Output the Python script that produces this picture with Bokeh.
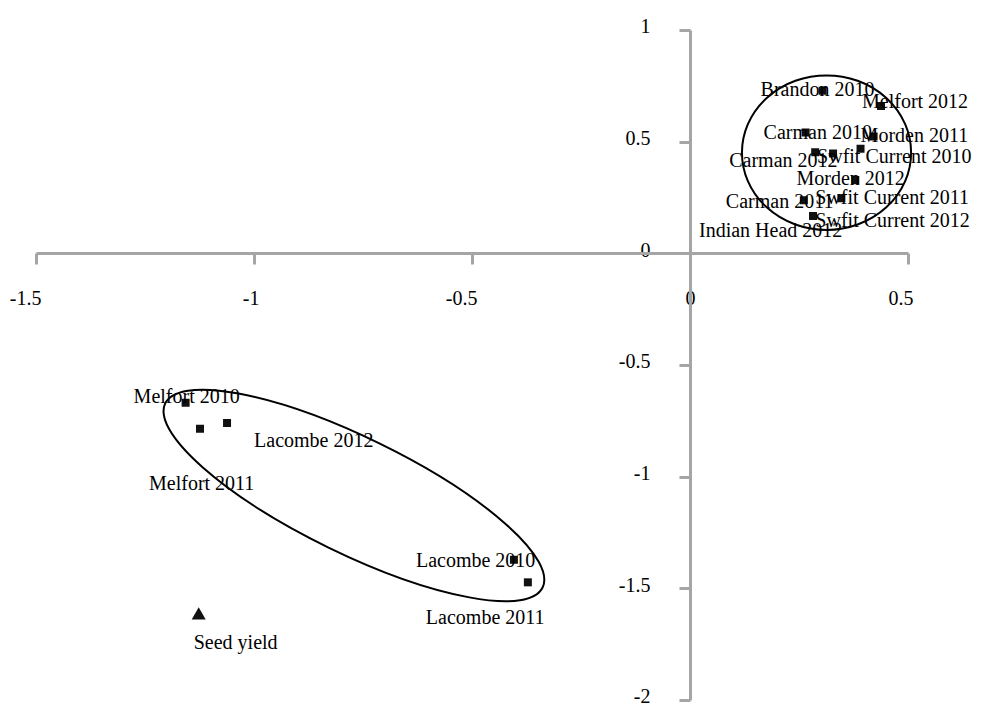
from bokeh.plotting import figure
from bokeh.models import ColumnDataSource, FixedTicker, Range1d
from bokeh.embed import file_html
from bokeh.resources import INLINE
from bokeh.core.properties import value
import math

# ---- data ----
sites = ["Brandon 2010", "Melfort 2012", "Carman 2010", "Morden 2011",
         "Swfit Current 2010", "Carman 2012", "Morden 2012", "Swfit Current 2011",
         "Carman 2011", "Swfit Current 2012", "Indian Head 2012",
         "Melfort 2010", "Lacombe 2012", "Melfort 2011", "Lacombe 2010", "Lacombe 2011"]
pc1 = [0.303, 0.437, 0.264, 0.420, 0.327, 0.286, 0.390, 0.378, 0.260, 0.346, 0.281,
       -1.158, -1.063, -1.125, -0.405, -0.373]
pc2 = [0.730, 0.662, 0.543, 0.525, 0.449, 0.455, 0.470, 0.331, 0.240, 0.249, 0.169,
       -0.667, -0.757, -0.783, -1.370, -1.471]

traits = ["Seed yield"]
trait_pc1 = [-1.128]
trait_pc2 = [-1.619]

# cluster ellipses (centre x, centre y, width, height in data units, angle in degrees)
ell_x = [0.312, -0.772]
ell_y = [0.453, -1.082]
ell_w = [0.388, 0.963]
ell_h = [0.692, 0.519]
ell_angle = [0, -26]

x_ticks = [-1.5, -1, -0.5, 0, 0.5]
x_tick_labels = ["-1.5", "-1", "-0.5", "0", "0.5"]
y_ticks = [-2, -1.5, -1, -0.5, 0, 0.5, 1]
y_tick_labels = ["-2", "-1.5", "-1", "-0.5", "0", "0.5", "1"]

# ---- label placement (pixel offsets, style only) ----
lab_dx = [-62, -19, -42, -13, -16, -86, -64, -40, -78, -26, -114, -52, 27, -51, -98, -102]
lab_dy = [-1.5, -5, -1, -2, 2, 8, 29, 17, 1, 22, 14, -7, 17, 54, 0, 35]
trait_dx = [-5]
trait_dy = [27]

FONT = value("Liberation Serif")
FS = "20px"
AXIS_GREY = "#a5a5a5"

p = figure(width=973, height=706,
           x_range=Range1d(-1.5826, 0.6491), y_range=Range1d(-2.0270, 1.1343),
           output_backend="svg", toolbar_location=None, min_border=0)
p.outline_line_color = None
p.grid.visible = False
p.background_fill_color = "white"

for ax, ticks, bnds in ((p.xaxis[0], x_ticks, (-1.5, 0.5)), (p.yaxis[0], y_ticks, (-2, 1))):
    ax.fixed_location = 0
    ax.bounds = bnds
    ax.ticker = FixedTicker(ticks=ticks)
    ax.axis_line_color = AXIS_GREY
    ax.axis_line_width = 3
    ax.major_tick_line_color = AXIS_GREY
    ax.major_tick_line_width = 3
    ax.major_tick_in = 0
    ax.major_tick_out = 11
    ax.minor_tick_line_color = None
    ax.major_label_text_color = None

# tick labels
p.text(x=x_ticks, y=[0] * len(x_ticks), text=x_tick_labels,
       x_offset=5, y_offset=44, text_align="right", text_baseline="alphabetic",
       text_font=FONT, text_font_size=FS, text_color="#000000")
p.text(x=[0] * len(y_ticks), y=y_ticks, text=y_tick_labels,
       x_offset=-40, y_offset=-4, text_align="right", text_baseline="alphabetic",
       text_font=FONT, text_font_size=FS, text_color="#000000")

# ellipses
p.ellipse(x=ell_x, y=ell_y, width=ell_w, height=ell_h,
          angle=[math.radians(a) for a in ell_angle],
          fill_color=None, line_color="#000000", line_width=2)

# site points
src = ColumnDataSource(dict(x=pc1, y=pc2, name=sites, dx=lab_dx, dy=lab_dy))
p.scatter(x="x", y="y", source=src, marker="square", size=8,
          fill_color="#111111", line_color="#111111", line_width=0)
p.text(x="x", y="y", text="name", x_offset="dx", y_offset="dy", source=src,
       text_align="left", text_baseline="alphabetic",
       text_font=FONT, text_font_size=FS, text_color="#000000")

# trait
tsrc = ColumnDataSource(dict(x=trait_pc1, y=trait_pc2, name=traits, dx=trait_dx, dy=trait_dy))
p.scatter(x="x", y="y", source=tsrc, marker="triangle", size=14,
          fill_color="#111111", line_color="#111111", line_width=0)
p.text(x="x", y="y", text="name", x_offset="dx", y_offset="dy", source=tsrc,
       text_align="left", text_baseline="alphabetic",
       text_font=FONT, text_font_size=FS, text_color="#000000")

open("out.html", "w").write(file_html(p, INLINE))
